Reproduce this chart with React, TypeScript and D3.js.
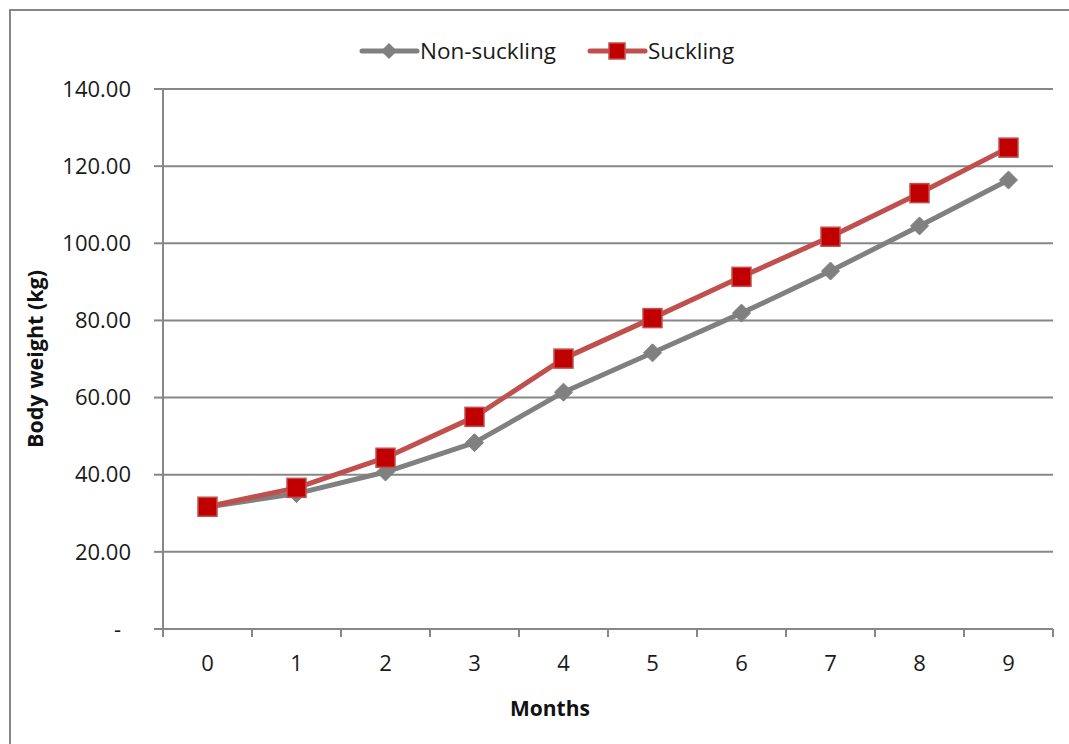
import React from "react";
import * as d3 from "d3";

const months: string[] = ["0", "1", "2", "3", "4", "5", "6", "7", "8", "9"];
const nonSuckling: number[] = [31.6, 35.1, 40.7, 48.3, 61.4, 71.6, 81.9, 92.8, 104.5, 116.4];
const suckling: number[] = [31.7, 36.6, 44.4, 55.0, 70.1, 80.6, 91.3, 101.7, 113.0, 124.8];
const yTicks: number[] = [0, 20, 40, 60, 80, 100, 120, 140];

const W = 1069;
const H = 744;
const plot = { left: 163, right: 1053, top: 89, bottom: 629 };
const FONT = "'Open Sans', 'Noto Sans', sans-serif";
const AXIS = "#878787";
const GRAY = "#808080";
const RED_LINE = "#C0504D";
const RED_FILL = "#C00000";
const TEXT = "#1a1a1a";

export default function App() {
  const x = d3.scaleBand<string>().domain(months).range([plot.left, plot.right]).padding(0);
  const y = d3.scaleLinear().domain([0, 140]).range([plot.bottom, plot.top]);
  const cx = (m: string) => (x(m) as number) + x.bandwidth() / 2;

  const line = d3
    .line<number>()
    .x((_, i) => cx(months[i]))
    .y((v) => y(v));

  const bounds = [...months.map((m) => x(m) as number), plot.right];

  const diamond = (px: number, py: number, r: number) =>
    `M${px},${py - r}L${px + r},${py}L${px},${py + r}L${px - r},${py}Z`;

  return (
    <svg
      width={W}
      height={H}
      style={{ position: "fixed", left: 0, top: 0, background: "#fff" }}
      fontFamily={FONT}
    >
      {/* chart frame */}
      <rect x={10} y={10} width={1100} height={800} fill="#fff" stroke={AXIS} strokeWidth={2} />

      {/* gridlines */}
      {yTicks.filter((t) => t > 0).map((t) => (
        <line key={`g${t}`} x1={plot.left} x2={plot.right} y1={y(t)} y2={y(t)} stroke={AXIS} strokeWidth={2} />
      ))}

      {/* y axis */}
      <line x1={plot.left} x2={plot.left} y1={plot.top} y2={plot.bottom} stroke={AXIS} strokeWidth={2} />
      {yTicks.map((t) => (
        <g key={`yt${t}`}>
          <line x1={plot.left - 9} x2={plot.left} y1={y(t)} y2={y(t)} stroke={AXIS} strokeWidth={2} />
          <text
            x={t === 0 ? 121 : 131}
            y={y(t)}
            dy="0.35em"
            textAnchor="end"
            fontSize={22}
            fill={TEXT}
          >
            {t === 0 ? "-" : d3.format(".2f")(t)}
          </text>
        </g>
      ))}

      {/* x axis */}
      <line x1={plot.left} x2={plot.right} y1={plot.bottom} y2={plot.bottom} stroke={AXIS} strokeWidth={2} />
      {bounds.map((b, i) => (
        <line key={`xt${i}`} x1={b} x2={b} y1={plot.bottom} y2={plot.bottom + 8} stroke={AXIS} strokeWidth={2} />
      ))}
      {months.map((m) => (
        <text key={`xl${m}`} x={cx(m)} y={663} dy="0.35em" textAnchor="middle" fontSize={22} fill={TEXT}>
          {m}
        </text>
      ))}

      {/* axis titles */}
      <text x={550} y={716} textAnchor="middle" fontSize={21} fontWeight="bold" fill="#111">
        Months
      </text>
      <text
        transform={`translate(35, ${(plot.top + plot.bottom) / 2}) rotate(-90)`}
        textAnchor="middle"
        dy="0.35em"
        fontSize={21.5}
        fontWeight="bold"
        fill="#111"
      >
        Body weight (kg)
      </text>

      {/* Non-suckling series */}
      <path d={line(nonSuckling) ?? ""} fill="none" stroke={GRAY} strokeWidth={5} strokeLinejoin="round" />
      {nonSuckling.map((v, i) => (
        <path key={`d${i}`} d={diamond(cx(months[i]), y(v), 9)} fill={GRAY} stroke={GRAY} strokeWidth={1} />
      ))}

      {/* Suckling series */}
      <path d={line(suckling) ?? ""} fill="none" stroke={RED_LINE} strokeWidth={5} strokeLinejoin="round" />
      {suckling.map((v, i) => (
        <rect
          key={`s${i}`}
          x={cx(months[i]) - 9.5}
          y={y(v) - 9.5}
          width={19}
          height={19}
          fill={RED_FILL}
          stroke={RED_LINE}
          strokeWidth={1.5}
        />
      ))}

      {/* legend */}
      <g>
        <line x1={362} x2={417} y1={51} y2={51} stroke={GRAY} strokeWidth={5} strokeLinecap="round" />
        <path d={diamond(389, 51, 8)} fill={GRAY} />
        <text x={420} y={51} dy="0.35em" fontSize={22.5} fill={TEXT}>
          Non-suckling
        </text>
        <line x1={590} x2={645} y1={51} y2={51} stroke={RED_LINE} strokeWidth={5} strokeLinecap="round" />
        <rect x={609} y={43} width={16} height={16} fill={RED_FILL} stroke={RED_LINE} strokeWidth={1.5} />
        <text x={648} y={51} dy="0.35em" fontSize={22.5} fill={TEXT}>
          Suckling
        </text>
      </g>
    </svg>
  );
}
